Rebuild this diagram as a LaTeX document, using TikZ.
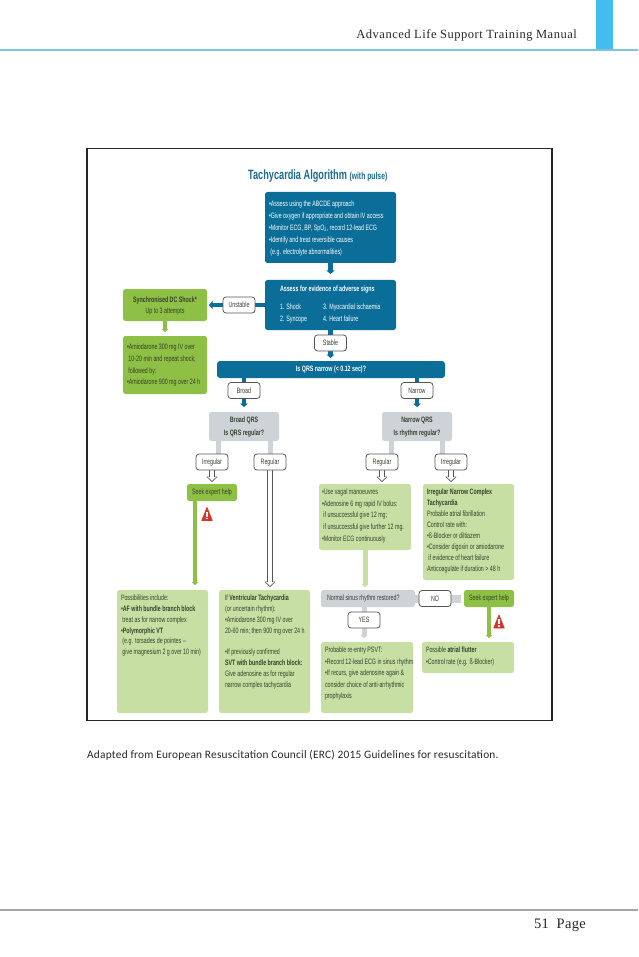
\documentclass[tikz,border=0pt]{standalone}
\usepackage{fontspec}
\usetikzlibrary{arrows.meta,backgrounds,calc}
\setmainfont[FakeStretch=0.68]{Liberation Sans}
\newfontfamily\headfont[LetterSpace=4]{Liberation Serif}
\newfontfamily\footfont[LetterSpace=2]{Liberation Serif}
\newfontfamily\capfont[LetterSpace=2]{Carlito}
\definecolor{ercblue}{HTML}{0B6E99}
\definecolor{titleblue}{HTML}{1B6B92}
\definecolor{ercgreen}{HTML}{8DC044}
\definecolor{lightgreen}{HTML}{C7DFA2}
\definecolor{ercgray}{HTML}{CED3D7}
\definecolor{inktext}{HTML}{34402C}
\definecolor{headblue}{HTML}{43BDEE}
\definecolor{headline}{HTML}{7FC4DE}
\definecolor{outl}{HTML}{555555}
\definecolor{warnr}{HTML}{D9342B}
\newcommand\dfs[1]{\fontsize{7.8}{#1}\selectfont}
\newcommand\bt[5]{\parbox[c][#2pt][t]{#1pt}{\dfs{11.2}\parindent=0pt\parskip=0pt\raggedright\leftskip=#3pt\rightskip=-30pt plus 1fil\relax\vspace*{#4pt}#5}}
\newcommand\ct[3]{\parbox[c][#2pt][t]{#1pt}{\dfs{11.2}\parindent=0pt\parskip=0pt\centering\vspace*{5pt}#3}}
\tikzset{
 box/.style={anchor=north west,inner sep=0pt,rounded corners=2.5pt,outer sep=0pt},
 bluebox/.style={box,fill=ercblue,text=white},
 greenbox/.style={box,fill=ercgreen,text=inktext},
 lightbox/.style={box,fill=lightgreen,text=inktext},
 graybox/.style={box,fill=ercgray,text=inktext},
 tag/.style={anchor=north west,draw=outl,line width=0.8pt,fill=white,rounded corners=3pt,inner sep=0pt,outer sep=0pt,minimum width=32pt,minimum height=16pt,text=inktext,font=\fontsize{7.8}{9}\selectfont},
 bluearrow/.style={draw=ercblue,line width=4.5pt,-{Triangle[width=8pt,length=3.5pt]}},
 greenarrow/.style={draw=ercgreen,line width=4.5pt,-{Triangle[width=6.5pt,length=3pt]}},
 lightarrow/.style={draw=lightgreen,line width=5pt,-{Triangle[width=7pt,length=3pt]}},
 grayarrow/.style={draw=ercgray,line width=5pt,-{Triangle[width=7pt,length=3pt]}},
 graystub/.style={draw=ercgray,line width=5pt},
 whiteout/.style={draw=outl,line width=6pt,-{Triangle[width=11pt,length=5.5pt]}},
 whitein/.style={draw=white,line width=4.4pt,-{Triangle[width=8pt,length=3.8pt]}},
 warnred/.style={fill=warnr,draw=warnr,line width=0.8pt,line join=round},
}
\newcommand\warnicon[2]{%
 \path[warnred] (#1,#2-6.5) -- (#1+5.2,#2+6.5) -- (#1-5.2,#2+6.5) -- cycle;
 \fill[white] (#1-0.8,#2-2.5) rectangle (#1+0.8,#2+2.5);
 \fill[white] (#1-0.8,#2+3.6) rectangle (#1+0.8,#2+5.2);}
\begin{document}
\begin{tikzpicture}[x=1pt,y=-1pt]
\useasboundingbox (0,0) rectangle (638,957);
% page furniture
\fill[headblue] (596,0) rectangle (613,50);
\draw[headline,line width=1.3pt] (0,50) -- (638,50);
\draw[gray!70,line width=1.2pt] (0,910) -- (638,910);
\node[anchor=east,inner sep=0pt,font=\headfont\fontsize{12.5}{14}\selectfont,text=black!85] (head) at (577,35) {Advanced Life Support Training Manual};
\node[anchor=east,inner sep=0pt,font=\footfont\fontsize{14.5}{16}\selectfont,text=black!85] (foot) at (586,925) {51\ \ Page};
\node[anchor=west,inner sep=0pt,font=\capfont\fontsize{11.35}{13}\selectfont,text=black!85] (cap) at (87,755) {Adapted from European Resuscitation Council (ERC) 2015 Guidelines for resuscitation.};
% frame
\draw[black!85,line width=1.3pt] (87,148.5) rectangle (552,720.5);
% title
\node[anchor=west,inner sep=0pt,text=titleblue] (title) at (248,176) {\fontsize{13.5}{15}\selectfont\bfseries Tachycardia Algorithm \fontsize{10}{12}\selectfont (with pulse)};
% blue boxes
\node[bluebox] (assess) at (265,192) {\bt{131}{71}{4}{8.5}{\dfs{12}•Assess using the ABCDE approach\\•Give oxygen if appropriate and obtain IV access\\•Monitor ECG, BP, SpO\textsubscript{2}, record 12-lead ECG\\•Identify and treat reversible causes\\\ (e.g. electrolyte abnormalities)}};
\node[bluebox] (adverse) at (265,280) {\bt{131}{50}{15}{6}{\textbf{Assess for evidence of adverse signs}\\[6.6pt]\makebox[43pt][l]{1. Shock}3. Myocardial ischaemia\\[0.8pt]\makebox[43pt][l]{2. Syncope}4. Heart failure}};
\node[bluebox,rounded corners=3pt] (qrs) at (217,361) {\ct{228}{17}{\textbf{Is QRS narrow (< 0.12 sec)?}}};
% green left
\node[greenbox] (shock) at (123,289) {\ct{84}{32}{\vspace*{3pt}\textbf{Synchronised DC Shock*}\\Up to 3 attempts}};
\node[greenbox] (amio) at (123,336) {\bt{84}{58}{4}{8}{\dfs{11.7}•Amiodarone 300 mg IV over\\\ 10-20 min and repeat shock;\\\ followed by:\\•Amiodarone 900 mg over 24 h}};
% gray decisions
\node[graybox] (bq) at (209,412) {\ct{70}{29}{\textbf{Broad QRS}\\[1.5pt]\textbf{Is QRS regular?}}};
\node[graybox] (nq) at (382,412) {\ct{70}{29}{\textbf{Narrow QRS}\\[1.5pt]\textbf{Is rhythm regular?}}};
% tags
\node[tag] (unstable) at (223,297) {Unstable};
\node[tag] (stable) at (314.5,335) {Stable};
\node[tag] (broad) at (228,382.5) {Broad};
\node[tag] (narrow) at (401,382.5) {Narrow};
\node[tag] (irr1) at (196,454) {Irregular};
\node[tag] (reg1) at (254,454) {Regular};
\node[tag] (reg2) at (366,454) {Regular};
\node[tag] (irr2) at (435,454) {Irregular};
\node[tag] (no) at (419,590.5) {NO};
\node[tag] (yes) at (348,612) {YES};
% seek help
\node[greenbox] (seek1) at (187,484) {\ct{50}{17}{Seek expert help}};
\node[greenbox] (seek2) at (464,590) {\ct{50}{17}{Seek expert help}};
\node[graybox] (normal) at (321,590) {\bt{94}{17}{6}{5}{Normal sinus rhythm restored?}};
% light boxes
\node[lightbox] (poss) at (117,590) {\bt{91}{123}{4}{5}{\dfs{10.8}Possibilities include:\\\textbf{•AF with bundle branch block}\\\ treat as for narrow complex\\\textbf{•Polymorphic VT}\\\ (e.g. torsades de pointes –\\\ give magnesium 2 g over 10 min)}};
\node[lightbox] (ifvt) at (219,590) {\bt{91}{123}{6}{5}{\dfs{10.8}If \textbf{Ventricular Tachycardia}\\(or uncertain rhythm):\\•Amiodarone 300 mg IV over\\20-60 min; then 900 mg over 24 h\\[10.8pt]•If previously confirmed\\\textbf{SVT with bundle branch block:}\\Give adenosine as for regular\\narrow complex tachycardia}};
\node[lightbox] (vagal) at (319,484) {\bt{92}{66}{3}{5}{\dfs{11.6}•Use vagal manoeuvres\\•Adenosine 6 mg rapid IV bolus:\\\ if unsuccessful give 12 mg;\\\ if unsuccessful give further 12 mg.\\•Monitor ECG continuously}};
\node[lightbox] (inct) at (423,484) {\bt{91}{96}{4}{5}{\dfs{11}\textbf{Irregular Narrow Complex}\\\textbf{Tachycardia}\\Probable atrial fibrillation\\Control rate with:\\•ß-Blocker or diltiazem\\•Consider digoxin or amiodarone\\\ if evidence of heart failure\\Anticoagulate if duration > 48 h}};
\node[lightbox] (psvt) at (321,642) {\bt{92}{71}{4}{5}{\dfs{11.5}Probable re-entry PSVT:\\•Record 12-lead ECG in sinus rhythm\\•If recurs, give adenosine again \&\\consider choice of anti-arrhythmic\\prophylaxis}};
\node[lightbox] (flutter) at (422,642) {\bt{92}{31}{4}{5}{\dfs{11.6}Possible \textbf{atrial flutter}\\•Control rate (e.g. ß-Blocker)}};
% warning icons
\warnicon{207}{514}
\warnicon{499}{621.5}
% connectors
\begin{pgfonlayer}{background}
\draw[bluearrow,shorten >=6pt] (assess.south) -- (adverse.north);
\draw[bluearrow,shorten >=2pt] (adverse.west) -- (shock.east);
\draw[bluearrow,shorten >=3pt] (adverse.south) -- (qrs.north -| adverse.south);
\draw[greenarrow,shorten >=4pt] (shock.south) -- (amio.north);
\draw[bluearrow,shorten >=5pt] (broad.north |- qrs.south) -- (broad.north |- bq.north);
\draw[bluearrow,shorten >=5pt] (narrow.north |- qrs.south) -- (narrow.north |- nq.north);
\draw[graystub] ([xshift=6.5pt]irr1.north |- bq.south) -- ([xshift=6.5pt]irr1.north);
\draw[graystub] (reg1.north |- bq.south) -- (reg1.north);
\draw[graystub] ([xshift=9pt]reg2.north |- nq.south) -- ([xshift=9pt]reg2.north);
\draw[graystub] ([xshift=-9pt]irr2.north |- nq.south) -- ([xshift=-9pt]irr2.north);
\draw[whiteout,shorten >=2pt] (irr1.south) -- (irr1.south |- seek1.north);
\draw[whitein,shorten >=3.2pt] (irr1.south) -- (irr1.south |- seek1.north);
\draw[whiteout,shorten >=3pt] (reg1.south) -- (reg1.south |- ifvt.north);
\draw[whitein,shorten >=4.2pt] (reg1.south) -- (reg1.south |- ifvt.north);
\draw[whiteout,shorten >=2pt] (reg2.south) -- (reg2.south |- vagal.north);
\draw[whitein,shorten >=3.2pt] (reg2.south) -- (reg2.south |- vagal.north);
\draw[whiteout,shorten >=2pt] (irr2.south) -- (irr2.south |- inct.north);
\draw[whitein,shorten >=3.2pt] (irr2.south) -- (irr2.south |- inct.north);
\draw[greenarrow,shorten >=5pt] ([xshift=-17pt]seek1.south) -- ([xshift=-17pt]seek1.south |- poss.north);
\draw[lightarrow,shorten >=3pt] (vagal.south) -- (vagal.south |- normal.north);
\draw[grayarrow,shorten >=4pt] (yes.north |- normal.south) -- (yes.north |- psvt.north);
\draw[draw=ercgray,line width=8pt,shorten >=3pt] (normal.east) -- (seek2.west);
\draw[greenarrow,shorten >=4pt] (seek2.south) -- (seek2.south |- flutter.north);
\end{pgfonlayer}
\end{tikzpicture}
\end{document}
